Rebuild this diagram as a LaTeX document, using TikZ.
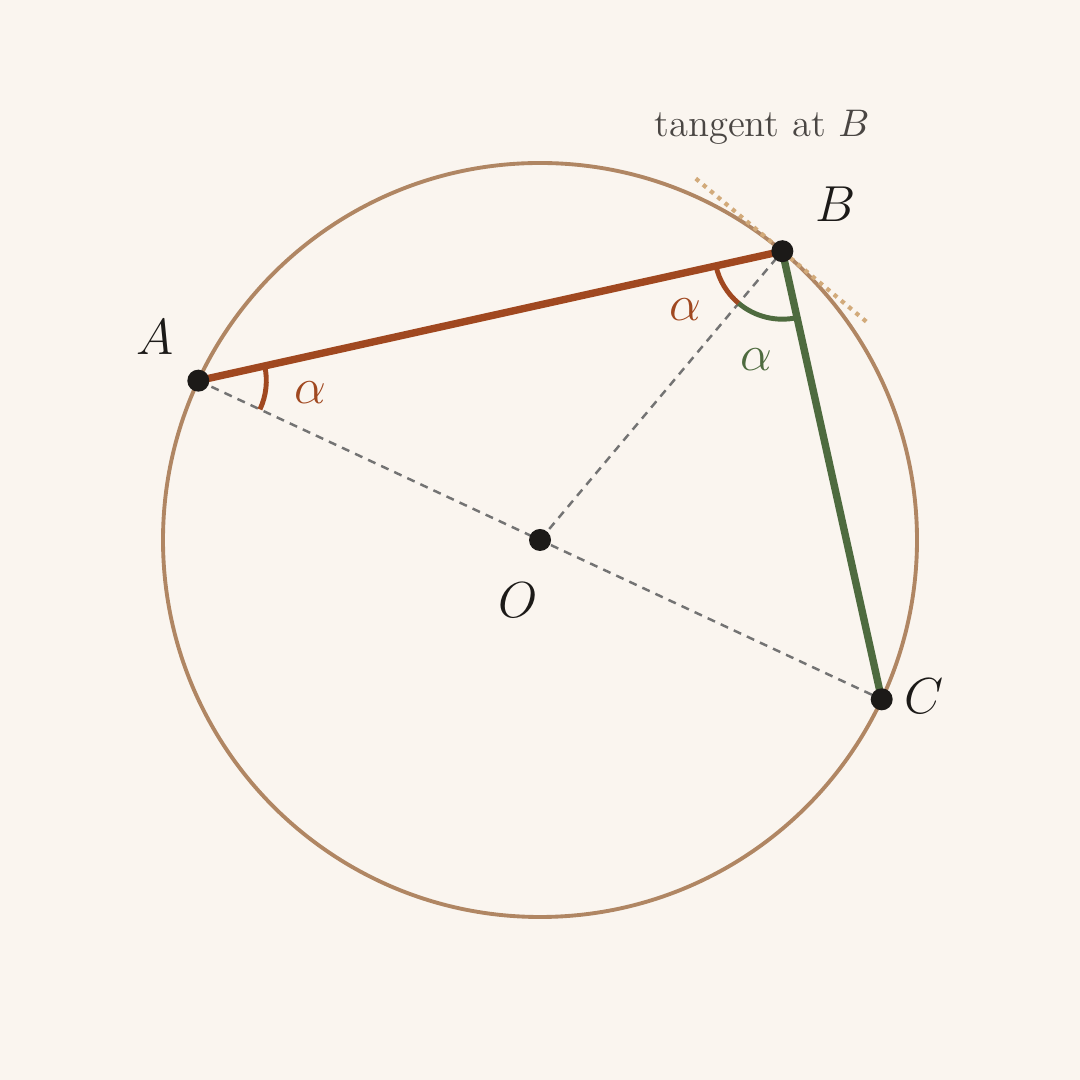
\documentclass[tikz,border=0pt]{standalone}
\begin{document}
\begin{tikzpicture}
	\definecolor{paper}{RGB}{250, 245, 239}
	\definecolor{rust}{RGB}{160, 72, 32}
	\definecolor{moss}{RGB}{78, 107, 63}
	\definecolor{rim}{RGB}{176, 134, 99}
	\definecolor{sand}{RGB}{210, 170, 122}
	\definecolor{ink}{RGB}{28, 26, 24}
	\definecolor{slate}{RGB}{74, 70, 67}
	\tikzset{
		radius line/.style={draw=gray!90!black, line width=0.7pt, dash pattern=on 2.3pt off 1.8pt},
		chord/.style={line width=2.1pt},
		mark arc/.style={line width=1.4pt},
		label/.style={font=\fontsize{15}{18}\selectfont, text=ink},
	}
	
	% \drawpoint#name
	\def\drawpoint#1{
		\fill[ink] (#1) circle (0.11);
	}
	
	% frame
	\fill[paper] (0, 0) rectangle (10.8, 10.8);
	\useasboundingbox (0, 0) rectangle (10.8, 10.8);
	
	% points on the circle
	\coordinate (O) at (5.4, 5.4);
	\path (O) ++(155:3.77) coordinate (A);
	\path (O) ++(50:3.77) coordinate (B);
	\path (O) ++(-25:3.77) coordinate (C);
	\path (B) ++(140:1.13) coordinate (T1);
	\path (B) ++(-40:1.13) coordinate (T2);
	
	% diagram
	\draw[rim, line width=1.1pt] (O) circle (3.77);
	\draw[sand, line width=1.2pt, dash pattern=on 1.2pt off 1.5pt] (T1) -- (T2);
	\draw[radius line] (A) -- (O) -- (C);
	\draw[radius line] (O) -- (B);
	\draw[rust, chord] (A) -- (B);
	\draw[moss, chord] (B) -- (C);
	\draw[rust, mark arc] (A) ++(12.5:0.68) arc[start angle=12.5, end angle=-25, radius=0.68];
	\draw[rust, mark arc] (B) ++(192.5:0.68) arc[start angle=192.5, end angle=230, radius=0.68];
	\draw[moss, mark arc] (B) ++(230:0.68) arc[start angle=230, end angle=282.5, radius=0.68];
	\drawpoint{A}
	\drawpoint{B}
	\drawpoint{C}
	\drawpoint{O}
	
	% labels
	\node[label] (labelA) at (1.55, 7.43) {$A$};
	\node[label] (labelB) at (8.36, 8.76) {$B$};
	\node[label] (labelC) at (9.24, 3.84) {$C$};
	\node[label] (labelO) at (5.18, 4.80) {$O$};
	\node[label, text=rust] (alphaA) at (3.10, 6.87) {$\alpha$};
	\node[label, text=rust] (alphaB) at (6.85, 7.70) {$\alpha$};
	\node[label, text=moss] (alphaC) at (7.56, 7.20) {$\alpha$};
	\node[text=slate, font=\fontsize{11}{13}\selectfont] (tangent) at (7.62, 9.53) {tangent at $B$};
\end{tikzpicture}
\end{document}
